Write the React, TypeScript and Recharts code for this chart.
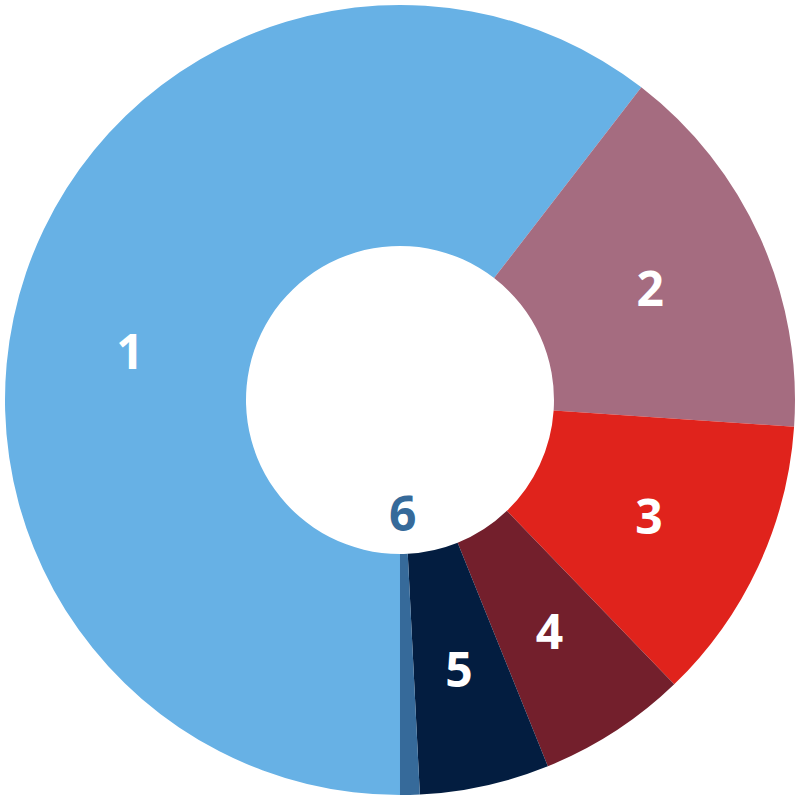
import { PieChart, Pie, Cell } from "recharts";

const LABELS = ["1", "2", "3", "4", "5", "6"];
const VALUES = [60.4, 15.6, 11.7, 6.1, 5.3, 0.8];
const COLORS = ["#67b1e5", "#a56c80", "#e0231c", "#731f2c", "#031d40", "#366a9a"];

const data = LABELS.map((name, i) => ({ name, value: VALUES[i] }));

const RADIAN = Math.PI / 180;

// label sits mid-ring; the tiny last slice gets its label inside the hole
function SliceLabel({ cx, cy, midAngle, innerRadius, outerRadius, index }: any) {
  const small = index === LABELS.length - 1;
  const r = small ? innerRadius - 41 : (innerRadius + outerRadius) / 2;
  const a = (midAngle + (index === 0 ? 8.4 : 0)) * RADIAN;
  const x = cx + r * Math.cos(a);
  const y = cy - r * Math.sin(a);
  return (
    <text x={x} y={y} textAnchor="middle" dominantBaseline="central"
      fill={small ? COLORS[index] : "#ffffff"}
      style={{ fontFamily: "'Open Sans', sans-serif", fontWeight: 700, fontSize: 48 }}>
      {LABELS[index]}
    </text>
  );
}

export default function App() {
  return (
    <div style={{ width: 800, height: 800, background: "#fff" }}>
      <style>{`body{margin:0}`}</style>
      <PieChart width={800} height={800} margin={{ top: 0, right: 0, bottom: 0, left: 0 }}>
        <Pie data={data} dataKey="value" nameKey="name" cx={400} cy={400}
          innerRadius={154} outerRadius={395} startAngle={270} endAngle={-90}
          stroke="none" labelLine={false} label={SliceLabel} isAnimationActive={false}>
          {data.map((_, i) => <Cell key={i} fill={COLORS[i]} />)}
        </Pie>
      </PieChart>
    </div>
  );
}
